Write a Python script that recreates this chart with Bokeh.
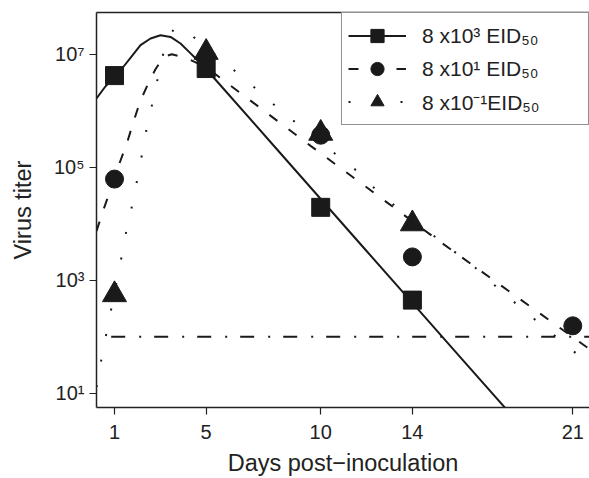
from bokeh.plotting import figure
from bokeh.models import Range1d, FixedTicker, LinearAxis, Legend, LegendItem
from bokeh.embed import file_html
from bokeh.resources import INLINE

# ---- observed titers (markers) ----
hi_days = [1, 5, 10, 14]
hi_titer = [4.2e6, 5.6e6, 1.96e4, 447]

mid_days = [1, 10, 14, 21]
mid_titer = [6.2e4, 3.7e5, 2.6e3, 157]

lo_days = [1, 5, 10, 14]
lo_titer = [557, 1.08e7, 4.0e5, 1.0e4]

# ---- fitted curves (log10 titer) ----
fit_hi_days = [0.214, 0.6, 1.0, 1.39, 1.8, 2.135, 2.572, 3.009, 3.445, 3.882,
               4.319, 4.537, 5.0, 5.41, 8.0, 10.0, 12.0, 14.0, 16.0, 18.04]
fit_hi_log10 = [6.22, 6.43, 6.62, 6.78, 6.99, 7.163, 7.28, 7.337, 7.308, 7.192,
                7.017, 6.93, 6.73, 6.55, 5.36, 4.44, 3.52, 2.60, 1.68, 0.747]

fit_mid_days = [0.214, 0.5, 0.825, 1.0, 1.19, 1.55, 1.84, 2.12, 2.48, 2.78,
                3.15, 3.5, 3.88, 4.31, 5.0, 9.56, 15.05, 21.74]
fit_mid_log10 = [3.87, 4.23, 4.6, 4.79, 5.04, 5.44, 5.82, 6.17, 6.49, 6.73,
                 6.96, 7.0, 6.96, 6.90, 6.77, 5.38, 3.73, 1.78]

fit_lo_days = [0.214, 0.43, 0.65, 0.87, 1.09, 1.31, 1.52, 1.77, 1.99, 2.21,
               2.41, 2.65, 2.89, 3.14, 3.58, 3.85, 4.2, 4.58, 6.33, 7.2,
               8.07, 8.95, 10.72, 11.6, 12.47, 13.35, 16.98, 17.83, 18.7, 19.57,
               20.45, 21.35, 21.74]
fit_lo_log10 = [1.11, 1.61, 2.07, 2.52, 2.97, 3.42, 3.88, 4.33, 4.78, 5.25,
                5.70, 6.13, 6.58, 7.03, 7.45, 7.47, 7.40, 7.26, 6.68, 6.38,
                6.07, 5.78, 5.21, 4.93, 4.58, 4.28, 3.15, 2.82, 2.53, 2.23,
                1.94, 1.64, 1.51]

# detection limit
limit_days = [0.855, 21.8]
limit_titer = [100, 100]

x_ticks = [1, 5, 10, 14, 21]
y_ticks = [10, 1000, 100000, 10000000]
y_tick_labels = ["10\u00b9", "10\u00b3", "10\u2075", "10\u2077"]

labels = ["8 x10\u00b3 EID\u2085\u2080", "8 x10\u00b9 EID\u2085\u2080", "8 x10\u207b\u00b9EID\u2085\u2080"]

INK = "#1a1a1a"
TXT = "#222222"
FONT = "Liberation Sans"

p = figure(width=589, height=478,
           x_range=Range1d(0.214, 21.73),
           y_range=Range1d(10 ** 0.75, 10 ** 7.74),
           y_axis_type="log",
           output_backend="svg", toolbar_location=None,
           min_border_left=96, min_border_right=0,
           min_border_top=12, min_border_bottom=66)
p.grid.visible = False
p.outline_line_color = None
p.background_fill_color = "white"
p.border_fill_color = "white"

# curves
l_hi = p.line(fit_hi_days, [10 ** v for v in fit_hi_log10], line_color=INK, line_width=2)
l_mid = p.line(fit_mid_days, [10 ** v for v in fit_mid_log10], line_color=INK, line_width=2,
               line_dash="10 14")
l_lo = p.line(fit_lo_days, [10 ** v for v in fit_lo_log10], line_color=INK, line_width=2,
              line_dash="2 24")
p.line(limit_days, limit_titer, line_color=INK, line_width=2, line_dash="14 14 2 13")

# markers
s_hi = p.scatter(hi_days, hi_titer, marker="square", size=18, fill_color=INK, line_color=INK)
s_mid = p.scatter(mid_days, mid_titer, marker="circle", size=18, fill_color=INK, line_color=INK)
s_lo = p.scatter(lo_days, lo_titer, marker="triangle", size=24, fill_color=INK, line_color=INK)

# axes
for ax in (p.xaxis[0], p.yaxis[0]):
    ax.axis_line_color = TXT
    ax.axis_line_width = 1.5
    ax.major_tick_line_color = TXT
    ax.major_tick_line_width = 1.2
    ax.major_tick_in = 0
    ax.major_tick_out = 7
    ax.minor_tick_line_color = None
    ax.major_label_text_font = FONT
    ax.major_label_text_font_size = "20px"
    ax.major_label_text_color = TXT
    ax.axis_label_text_font = FONT
    ax.axis_label_text_font_size = "23.5px"
    ax.axis_label_text_font_style = "normal"
    ax.axis_label_text_color = TXT

p.xaxis.ticker = FixedTicker(ticks=x_ticks)
p.xaxis.major_label_standoff = 10
p.xaxis.axis_label = "Days post\u2212inoculation"
p.xaxis.axis_label_standoff = 8

p.yaxis.ticker = FixedTicker(ticks=y_ticks)
p.yaxis.major_label_overrides = {t: lab for t, lab in zip(y_ticks, y_tick_labels)}
p.yaxis.major_label_standoff = 5
p.yaxis.major_label_orientation = "horizontal"
p.yaxis.axis_label = "Virus titer"
p.yaxis.axis_label_standoff = 15

top = LinearAxis(ticker=FixedTicker(ticks=[]), major_tick_out=0, major_tick_in=0,
                 minor_tick_out=0, minor_tick_in=0, major_label_text_font_size="0px",
                 major_label_standoff=0, axis_line_color=TXT, axis_line_width=1.5)
p.add_layout(top, "above")

legend = Legend(items=[LegendItem(label=labels[0], renderers=[l_hi, s_hi]),
                       LegendItem(label=labels[1], renderers=[l_mid, s_mid]),
                       LegendItem(label=labels[2], renderers=[l_lo, s_lo])],
                location="top_right", margin=0, padding=6, spacing=0,
                glyph_width=58, glyph_height=33, label_height=20,
                label_standoff=16, label_width=160,
                label_text_font=FONT, label_text_font_size="21px", label_text_color=TXT,
                border_line_color=TXT, border_line_width=1.2,
                background_fill_color="white", background_fill_alpha=1.0)
p.add_layout(legend)

open("out.html", "w").write(file_html(p, INLINE))
